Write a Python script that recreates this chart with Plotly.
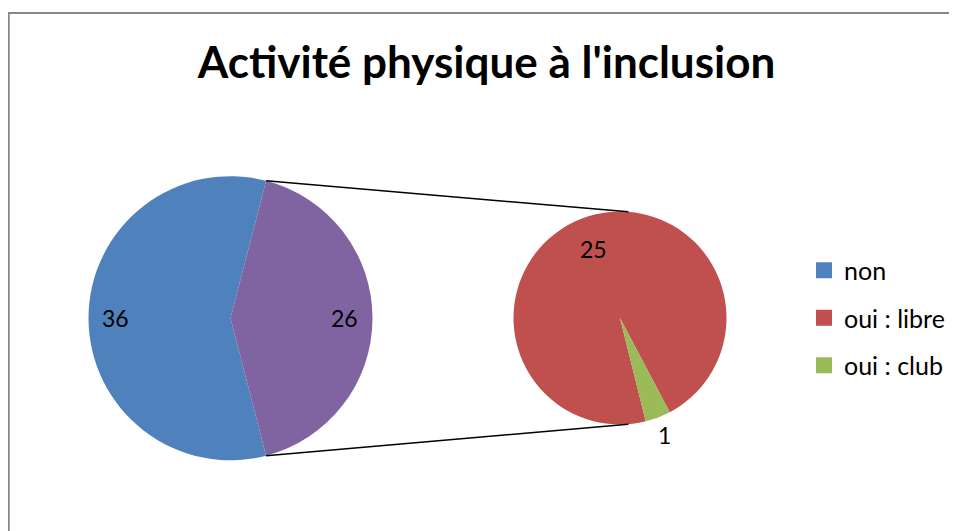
"""Pie-of-pie chart: physical activity at inclusion."""

import math

import plotly.graph_objects as go

WIDTH = 957
HEIGHT = 531
# the page body adds an 8px margin around the figure
PAGE_OFFSET = 8

TITLE = "Activité physique à l'inclusion"

# main pie: "non" vs all "oui"
MAIN_LABELS = ["non", "oui"]
MAIN_VALUES = [36, 26]

# secondary pie: split of the "oui" slice
SUB_LABELS = ["oui : libre", "oui : club"]
SUB_VALUES = [25, 1]

LEGEND_LABELS = ["non", "oui : libre", "oui : club"]

COLORS = {
    "non": "#4F81BD",
    "oui": "#8064A2",
    "oui : libre": "#C0504D",
    "oui : club": "#9BBB59",
}

FONT = "Lato, 'Open Sans', sans-serif"
FRAME_COLOR = "#868686"

# geometry in screen pixels (center x, center y, radius)
MAIN_PIE = (230.5, 318.2, 142.0)
SUB_PIE = (620.0, 318.0, 106.5)
SUB_ROTATION = 166.0
SUB_LINK_ANGLE = 85.5


def px_x(x):
    return (x - PAGE_OFFSET) / WIDTH


def px_y(y):
    return 1 - (y - PAGE_OFFSET) / HEIGHT


def pie_domain(cx, cy, r):
    return {
        "x": [px_x(cx - r), px_x(cx + r)],
        "y": [px_y(cy + r), px_y(cy - r)],
    }


def slice_angles(values, rotation):
    """Start/stop angles (degrees, standard orientation) for clockwise slices."""
    total = sum(values)
    start = 90 - rotation
    out = []
    acc = 0
    for v in values:
        a0 = start - acc * 360 / total
        acc += v
        a1 = start - acc * 360 / total
        out.append((a0, a1))
    return out


def point_on(pie, angle, frac=1.0):
    cx, cy, r = pie
    rad = math.radians(angle)
    return cx + frac * r * math.cos(rad), cy - frac * r * math.sin(rad)


# main pie rotated so that the "oui" slice is centred on the right
main_rotation = 90 + MAIN_VALUES[1] / sum(MAIN_VALUES) * 180
main_angles = slice_angles(MAIN_VALUES, main_rotation)
sub_angles = slice_angles(SUB_VALUES, SUB_ROTATION)

fig = go.Figure()

fig.add_trace(go.Pie(
    labels=MAIN_LABELS,
    values=MAIN_VALUES,
    marker={"colors": [COLORS[l] for l in MAIN_LABELS], "line": {"width": 0}},
    sort=False,
    direction="clockwise",
    rotation=main_rotation,
    textinfo="none",
    showlegend=False,
    domain=pie_domain(*MAIN_PIE),
))

fig.add_trace(go.Pie(
    labels=SUB_LABELS,
    values=SUB_VALUES,
    marker={"colors": [COLORS[l] for l in SUB_LABELS], "line": {"width": 0}},
    sort=False,
    direction="clockwise",
    rotation=SUB_ROTATION,
    textinfo="none",
    showlegend=False,
    domain=pie_domain(*SUB_PIE),
))

# legend entries, one group each so tracegroupgap spaces them
for label in LEGEND_LABELS:
    fig.add_trace(go.Scatter(
        x=[None],
        y=[None],
        mode="markers",
        name=label,
        legendgroup=label,
        marker={"symbol": "square", "size": 16, "color": COLORS[label]},
    ))

# data labels
annotations = []
label_specs = [
    (MAIN_PIE, main_angles, MAIN_VALUES, [0.81, 0.80]),
    (SUB_PIE, sub_angles, SUB_VALUES, [0.69, 1.18]),
]
for pie, angles, values, fracs in label_specs:
    for (a0, a1), v, frac in zip(angles, values, fracs):
        x, y = point_on(pie, (a0 + a1) / 2, frac)
        annotations.append({
            "text": str(v),
            "x": px_x(x),
            "y": px_y(y),
            "xref": "paper",
            "yref": "paper",
            "showarrow": False,
            "xanchor": "center",
            "yanchor": "middle",
            "font": {"size": 23, "color": "#000000", "family": FONT},
        })

# connector lines between the "oui" slice and the secondary pie
oui_ends = sorted((point_on(MAIN_PIE, a) for a in main_angles[1]), key=lambda p: p[1])
sub_ends = [point_on(SUB_PIE, SUB_LINK_ANGLE), point_on(SUB_PIE, -SUB_LINK_ANGLE)]

shapes = [
    {
        "type": "line", "xref": "paper", "yref": "paper",
        "x0": px_x(p[0]), "y0": px_y(p[1]), "x1": px_x(q[0]), "y1": px_y(q[1]),
        "line": {"color": "#000000", "width": 1.5},
    }
    for p, q in zip(oui_ends, sub_ends)
]
# chart frame (runs off the right and bottom edges)
shapes.append({
    "type": "rect", "xref": "paper", "yref": "paper",
    "x0": px_x(8.8), "y0": px_y(13), "x1": 1.05, "y1": -0.05,
    "line": {"color": FRAME_COLOR, "width": 1.8},
    "layer": "below",
})

fig.update_layout(
    width=WIDTH,
    height=HEIGHT,
    margin={"l": 0, "r": 0, "t": 0, "b": 0},
    paper_bgcolor="#FFFFFF",
    plot_bgcolor="#FFFFFF",
    font={"family": FONT, "color": "#000000"},
    title={
        "text": f"<b>{TITLE}</b>",
        "x": px_x(486.5),
        "xanchor": "center",
        "y": px_y(63),
        "yanchor": "middle",
        "font": {"size": 44, "color": "#000000", "family": FONT},
    },
    xaxis={"visible": False},
    yaxis={"visible": False},
    showlegend=True,
    legend={
        "x": px_x(804),
        "xanchor": "left",
        "y": px_y(318),
        "yanchor": "middle",
        "traceorder": "grouped",
        "tracegroupgap": 12,
        "font": {"size": 25, "color": "#000000", "family": FONT},
        "bgcolor": "rgba(0,0,0,0)",
    },
    annotations=annotations,
    shapes=shapes,
)

fig.write_html("out.html")
